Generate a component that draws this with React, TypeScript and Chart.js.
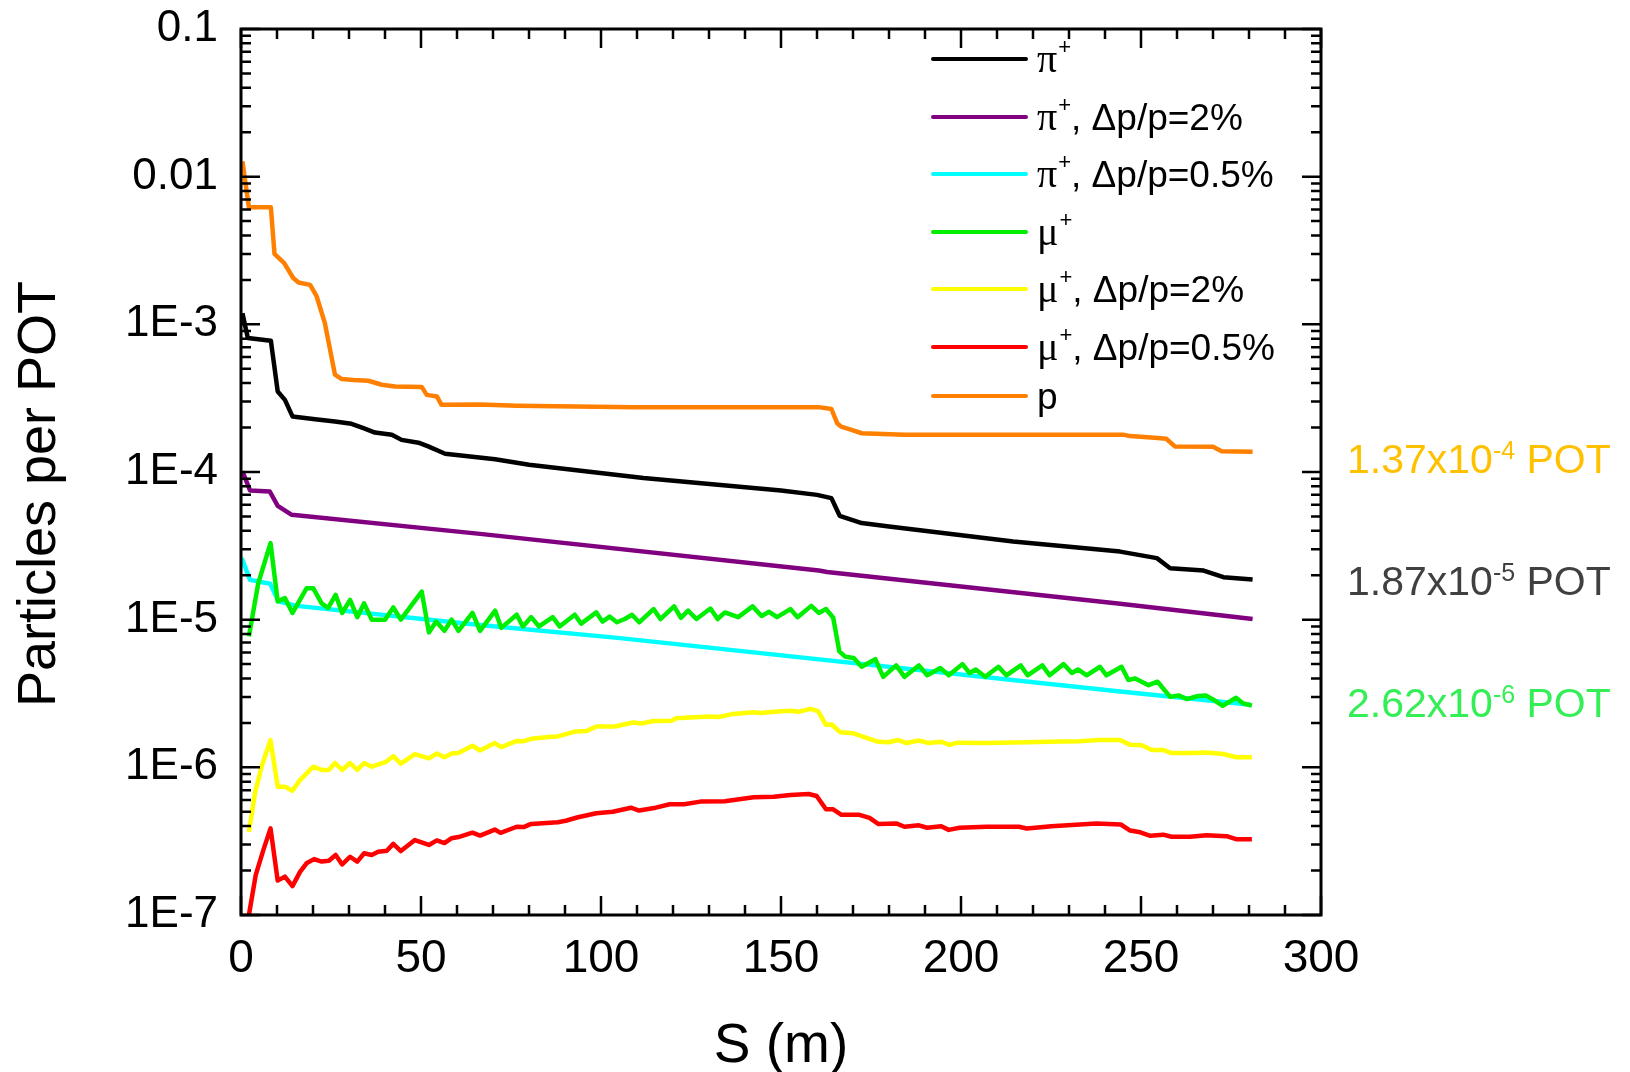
import React, { useEffect, useRef } from 'react';
import { Chart, registerables } from 'chart.js';

Chart.register(...registerables);

const SANS = '"Liberation Sans", Arial, sans-serif';
const SERIF = '"Liberation Serif", "Times New Roman", serif';

// ---- beam-line position S (m) and particles per proton on target ----

// pi+ (all momenta)
const piS = [0.4, 1.9, 8.3, 10.2, 12.2, 14.3, 20.6, 26.1, 30.7, 34,
  37.2, 41.9, 44.6, 49.3, 52, 56.7, 70.6, 80, 111.8, 150,
  160, 164, 166.3, 172.4, 180, 214.5, 244.2, 254.4, 258.1, 267.4,
  272.9, 281];
const piY = [1.19e-3, 8.07e-4, 7.74e-4, 3.51e-4, 3.08e-4, 2.38e-4, 2.28e-4, 2.2e-4, 2.12e-4, 1.98e-4,
  1.85e-4, 1.79e-4, 1.65e-4, 1.58e-4, 1.49e-4, 1.33e-4, 1.22e-4, 1.12e-4, 9.1e-5, 7.5e-5,
  7.0e-5, 6.65e-5, 5.05e-5, 4.51e-5, 4.28e-5, 3.38e-5, 2.89e-5, 2.61e-5, 2.23e-5, 2.15e-5,
  1.94e-5, 1.87e-5];

// pi+, dp/p = 2%
const pi2S = [0.4, 2.5, 8, 10.2, 14.1, 66.4, 160.5, 162.8, 244.2, 281];
const pi2Y = [1.01e-4, 7.5e-5, 7.38e-5, 5.9e-5, 5.13e-5, 3.81e-5, 2.15e-5, 2.1e-5, 1.28e-5, 1.01e-5];

// pi+, dp/p = 0.5%
const pi05S = [0.2, 2.5, 8.1, 10.4, 15.5, 66.4, 105.3, 244.2, 280.5];
const pi05Y = [2.61e-5, 1.86e-5, 1.75e-5, 1.33e-5, 1.24e-5, 9.2e-6, 7.5e-6, 3.26e-6, 2.65e-6];

// mu+ (all momenta)
const muS = [2.2, 4.8, 8.2, 10.2, 12.2, 14.3, 18.2, 20.1, 22.4, 24.2,
  26.3, 28.1, 30.3, 32.3, 34.2, 36.3, 40, 42.3, 44.4, 50.2,
  52.2, 54.2, 56.5, 58.5, 60.4, 64.3, 66.4, 70.6, 72.3, 76.6,
  78.3, 80.6, 82.8, 86.6, 88.5, 92.7, 94.5, 98.7, 100.4, 102.4,
  104.4, 106.6, 108.6, 110.6, 114.6, 116.5, 120.3, 122.2, 124.2, 126.5,
  130.4, 132.4, 134.4, 138.1, 142.1, 144.6, 146.7, 148.9, 152.6, 154.6,
  158.4, 160.5, 162.5, 164.5, 166.2, 167.9, 170.2, 172.4, 176.2, 178.4,
  182, 184.3, 188.3, 190.6, 194.3, 196.6, 200.4, 202.4, 204.1, 206.7,
  210.4, 212.6, 216.6, 218.5, 222.6, 224.6, 228.5, 230.8, 232.5, 234.9,
  238.6, 240.4, 244.6, 246.5, 248.4, 252.1, 254.6, 258.1, 260.4, 262.7,
  265.9, 268, 270.1, 272.7, 276.4, 278.4, 280.8];
const muY = [7.7e-6, 1.77e-5, 3.3e-5, 1.33e-5, 1.4e-5, 1.11e-5, 1.63e-5, 1.63e-5, 1.29e-5, 1.2e-5,
  1.47e-5, 1.11e-5, 1.36e-5, 1.04e-5, 1.29e-5, 1.0e-5, 1.0e-5, 1.21e-5, 1.0e-5, 1.55e-5,
  8.2e-6, 9.7e-6, 8.4e-6, 1.0e-5, 8.4e-6, 1.11e-5, 8.4e-6, 1.15e-5, 8.8e-6, 1.08e-5,
  9.0e-6, 1.04e-5, 9.0e-6, 1.04e-5, 9.0e-6, 1.08e-5, 9.4e-6, 1.12e-5, 9.7e-6, 1.05e-5,
  9.6e-6, 1.01e-5, 1.08e-5, 9.6e-6, 1.18e-5, 1.01e-5, 1.23e-5, 1.03e-5, 1.15e-5, 1.01e-5,
  1.19e-5, 1.01e-5, 1.12e-5, 1.04e-5, 1.23e-5, 1.06e-5, 1.13e-5, 1.04e-5, 1.18e-5, 1.04e-5,
  1.24e-5, 1.11e-5, 1.18e-5, 1.03e-5, 6.1e-6, 5.6e-6, 5.5e-6, 4.8e-6, 5.4e-6, 4.1e-6,
  4.9e-6, 4.1e-6, 4.9e-6, 4.2e-6, 4.7e-6, 4.2e-6, 5.0e-6, 4.35e-6, 4.6e-6, 4.1e-6,
  4.8e-6, 4.2e-6, 4.9e-6, 4.2e-6, 4.9e-6, 4.2e-6, 5.0e-6, 4.35e-6, 4.6e-6, 4.2e-6,
  4.8e-6, 4.2e-6, 4.8e-6, 3.9e-6, 4.0e-6, 3.6e-6, 3.8e-6, 3.0e-6, 3.07e-6, 2.9e-6,
  3.04e-6, 3.07e-6, 2.87e-6, 2.61e-6, 2.96e-6, 2.71e-6, 2.62e-6];

// mu+, dp/p = 2%
const mu2S = [2.2, 3.9, 5.7, 8.2, 10.2, 12.2, 14.3, 16.4, 20.1, 22.4,
  24.4, 26.1, 28.1, 30.3, 32.3, 34.2, 36.3, 40.3, 42.3, 44.4,
  48.3, 52.2, 54.4, 56.5, 58.5, 60.4, 64.3, 66.4, 70.5, 72.3,
  76.6, 78.3, 80.6, 86.2, 88, 93, 95.9, 98.7, 103.8, 108.9,
  111.2, 114.6, 119.7, 120.8, 129.9, 132.7, 136.7, 142.4, 144.6, 148,
  152.6, 154.9, 158.2, 160.3, 162.5, 164.1, 166.4, 170.1, 177, 179.8,
  182.6, 184.9, 188.3, 191.1, 194.5, 196.8, 199.1, 207, 218.4, 224,
  233, 238.1, 244.2, 247, 250.2, 253, 256.2, 258.5, 264.5, 268.2,
  272.8, 276.5, 280.8];
const mu2Y = [3.66e-7, 6.7e-7, 1.01e-6, 1.53e-6, 7.4e-7, 7.4e-7, 6.95e-7, 8.2e-7, 1.01e-6, 9.6e-7,
  9.6e-7, 1.07e-6, 9.6e-7, 1.07e-6, 9.6e-7, 1.07e-6, 1.01e-6, 1.09e-6, 1.19e-6, 1.06e-6,
  1.23e-6, 1.15e-6, 1.24e-6, 1.17e-6, 1.24e-6, 1.25e-6, 1.4e-6, 1.3e-6, 1.46e-6, 1.37e-6,
  1.51e-6, 1.5e-6, 1.56e-6, 1.61e-6, 1.62e-6, 1.75e-6, 1.76e-6, 1.89e-6, 1.89e-6, 2.01e-6,
  1.98e-6, 2.06e-6, 2.07e-6, 2.15e-6, 2.21e-6, 2.19e-6, 2.3e-6, 2.36e-6, 2.33e-6, 2.38e-6,
  2.42e-6, 2.38e-6, 2.49e-6, 2.4e-6, 1.94e-6, 1.95e-6, 1.73e-6, 1.7e-6, 1.49e-6, 1.48e-6,
  1.53e-6, 1.46e-6, 1.52e-6, 1.46e-6, 1.49e-6, 1.42e-6, 1.47e-6, 1.46e-6, 1.48e-6, 1.49e-6,
  1.5e-6, 1.53e-6, 1.53e-6, 1.42e-6, 1.41e-6, 1.31e-6, 1.31e-6, 1.25e-6, 1.25e-6, 1.26e-6,
  1.23e-6, 1.17e-6, 1.17e-6];

// mu+, dp/p = 0.5%
const mu05S = [2.2, 4.1, 6.2, 8.2, 10.2, 12.2, 14.3, 16.4, 18.2, 20.3,
  22.4, 24.4, 26.3, 28.1, 30.3, 32.3, 34.2, 36.3, 38.1, 40.5,
  42.3, 44.4, 48.3, 52.2, 54.4, 56.5, 58.5, 60.4, 64.3, 66.4,
  70.5, 72.1, 76.6, 78.5, 80.6, 88, 90.2, 93.6, 98.7, 103.3,
  108.3, 110.6, 115.2, 119.1, 123.1, 127.6, 134.4, 142.4, 148, 152.6,
  157.7, 159.9, 162.5, 164.5, 166.8, 171.8, 174.6, 177, 182, 184.3,
  188.3, 190.6, 194.5, 196.6, 199.6, 207, 216.1, 218.3, 225.1, 237.6,
  244.4, 247, 249.8, 252.6, 256.2, 258.5, 263.6, 268.2, 273.8, 276.4,
  280.8];
const mu05Y = [1.0e-7, 1.87e-7, 2.75e-7, 3.86e-7, 1.71e-7, 1.82e-7, 1.57e-7, 1.96e-7, 2.24e-7, 2.39e-7,
  2.3e-7, 2.33e-7, 2.55e-7, 2.2e-7, 2.48e-7, 2.3e-7, 2.62e-7, 2.55e-7, 2.68e-7, 2.72e-7,
  3.03e-7, 2.71e-7, 3.22e-7, 2.98e-7, 3.2e-7, 3.07e-7, 3.31e-7, 3.37e-7, 3.61e-7, 3.45e-7,
  3.79e-7, 3.6e-7, 3.96e-7, 3.94e-7, 4.14e-7, 4.25e-7, 4.35e-7, 4.59e-7, 4.89e-7, 5.0e-7,
  5.33e-7, 5.1e-7, 5.33e-7, 5.62e-7, 5.62e-7, 5.86e-7, 5.9e-7, 6.27e-7, 6.33e-7, 6.5e-7,
  6.6e-7, 6.4e-7, 5.2e-7, 5.2e-7, 4.77e-7, 4.77e-7, 4.55e-7, 4.14e-7, 4.17e-7, 3.96e-7,
  4.05e-7, 3.9e-7, 3.99e-7, 3.77e-7, 3.9e-7, 3.96e-7, 3.96e-7, 3.85e-7, 3.99e-7, 4.17e-7,
  4.1e-7, 3.73e-7, 3.63e-7, 3.44e-7, 3.5e-7, 3.39e-7, 3.39e-7, 3.47e-7, 3.42e-7, 3.26e-7,
  3.26e-7];

// protons
const protonS = [0.4, 2.2, 8.3, 9.3, 12, 14.5, 16, 19.2, 21, 23.3,
  26.1, 28, 31.2, 35.4, 39.1, 42.8, 50.2, 51.6, 54.4, 55.7,
  66.4, 76.6, 109.4, 160.5, 164, 165.6, 166.7, 169.6, 172.4, 184.3,
  245, 247, 254.7, 257, 259.4, 270, 272.4, 281];
const protonY = [1.27e-2, 6.2e-3, 6.2e-3, 3.0e-3, 2.6e-3, 2.06e-3, 1.92e-3, 1.85e-3, 1.55e-3, 1.02e-3,
  4.56e-4, 4.26e-4, 4.2e-4, 4.15e-4, 3.9e-4, 3.79e-4, 3.77e-4, 3.33e-4, 3.25e-4, 2.85e-4,
  2.86e-4, 2.81e-4, 2.75e-4, 2.75e-4, 2.67e-4, 2.14e-4, 2.03e-4, 1.93e-4, 1.83e-4, 1.79e-4,
  1.79e-4, 1.75e-4, 1.7e-4, 1.68e-4, 1.49e-4, 1.48e-4, 1.38e-4, 1.37e-4];

// ---- axes ----
const sTicks = [0, 50, 100, 150, 200, 250, 300];
const yTickValues = [1e-7, 1e-6, 1e-5, 1e-4, 1e-3, 1e-2, 1e-1];
const yTickLabels = ['1E-7', '1E-6', '1E-5', '1E-4', '1E-3', '0.01', '0.1'];

// ---- legend text: particle symbol, superscript, remainder ----
const legendSymbol = ['π', 'π', 'π', 'μ', 'μ', 'μ', 'p'];
const legendSup = ['+', '+', '+', '+', '+', '+', ''];
const legendRest = ['', ', Δp/p=2%', ', Δp/p=0.5%', '', ', Δp/p=2%', ', Δp/p=0.5%', ''];

// ---- end-of-line yields written at the right ----
const endValues = [1.37e-4, 1.87e-5, 2.62e-6];
const endMantissa = ['1.37', '1.87', '2.62'];
const endExponent = ['-4', '-5', '-6'];
const endColors = ['#FFC000', '#404040', '#33EE55'];
const endShift = [6, 0, -4];

const zip = (xs: number[], ys: number[]) => xs.map((x, i) => ({ x, y: ys[i] }));

// layout constants (canvas pixels)
const W = 1630;
const H = 1072;
const PLOT_LEFT = 241;
const PLOT_RIGHT = 1321;
const PLOT_TOP = 29;
const PLOT_BOTTOM = 915;
const LEGEND_ROWS = [59, 117, 174, 232, 289, 347, 396];
const LEGEND_LINE_X0 = 933;
const LEGEND_LINE_X1 = 1026;
const LEGEND_TEXT_X = 1037;

const decorPlugin = {
  id: 'decor',
  afterDraw(chart: any) {
    const { ctx, chartArea: a, scales } = chart;
    const xs = scales.x;
    const ys = scales.y;
    ctx.save();

    // inward tick marks on all four sides
    ctx.strokeStyle = '#000';
    ctx.lineWidth = 2.5;
    ctx.lineCap = 'butt';
    ctx.beginPath();
    for (let s = 0; s <= 300; s += 10) {
      const px = xs.getPixelForValue(s);
      const len = s % 50 === 0 ? 19 : 10;
      ctx.moveTo(px, a.bottom);
      ctx.lineTo(px, a.bottom - len);
      ctx.moveTo(px, a.top);
      ctx.lineTo(px, a.top + len);
    }
    for (let e = -7; e <= -1; e++) {
      for (let m = 1; m <= 9; m++) {
        const v = m * Math.pow(10, e);
        if (v > 0.10001) break;
        const py = ys.getPixelForValue(v);
        const len = m === 1 ? 19 : 10;
        ctx.moveTo(a.left, py);
        ctx.lineTo(a.left + len, py);
        ctx.moveTo(a.right, py);
        ctx.lineTo(a.right - len, py);
      }
    }
    ctx.stroke();

    // plot frame
    ctx.lineWidth = 3;
    ctx.strokeRect(a.left, a.top, a.right - a.left, a.bottom - a.top);

    // axis titles
    ctx.fillStyle = '#000';
    ctx.font = `55px ${SANS}`;
    ctx.textAlign = 'center';
    ctx.textBaseline = 'alphabetic';
    ctx.fillText('S (m)', (a.left + a.right) / 2, 1062);
    ctx.save();
    ctx.translate(55, 494);
    ctx.rotate(-Math.PI / 2);
    ctx.font = `54px ${SANS}`;
    ctx.fillText('Particles per POT', 0, 0);
    ctx.restore();

    // legend
    ctx.textAlign = 'left';
    chart.data.datasets.forEach((ds: any, i: number) => {
      const y = LEGEND_ROWS[i];
      ctx.strokeStyle = ds.borderColor;
      ctx.lineWidth = 4;
      ctx.lineCap = 'round';
      ctx.beginPath();
      ctx.moveTo(LEGEND_LINE_X0, y);
      ctx.lineTo(LEGEND_LINE_X1, y);
      ctx.stroke();

      ctx.fillStyle = '#000';
      const greek = legendSymbol[i] !== 'p';
      ctx.font = greek ? `40px ${SERIF}` : `37px ${SANS}`;
      let x = LEGEND_TEXT_X;
      const base = y + 13;
      ctx.fillText(legendSymbol[i], x, base);
      x += ctx.measureText(legendSymbol[i]).width;
      if (legendSup[i]) {
        ctx.font = `22px ${SANS}`;
        ctx.fillText(legendSup[i], x + 1, y - 5);
        x += ctx.measureText(legendSup[i]).width + 1;
      }
      if (legendRest[i]) {
        ctx.font = `37px ${SANS}`;
        ctx.fillText(legendRest[i], x, base);
      }
    });

    // end-of-line yields
    endValues.forEach((v, i) => {
      const base = ys.getPixelForValue(v) + 15 + endShift[i];
      let x = a.right + 26;
      ctx.fillStyle = endColors[i];
      ctx.font = `41px ${SANS}`;
      const main = `${endMantissa[i]}x10`;
      ctx.fillText(main, x, base);
      x += ctx.measureText(main).width;
      ctx.font = `25px ${SANS}`;
      ctx.fillText(endExponent[i], x, base - 14);
      x += ctx.measureText(endExponent[i]).width;
      ctx.font = `41px ${SANS}`;
      ctx.fillText(' POT', x, base);
    });

    ctx.restore();
  },
};

export default function App() {
  const canvasRef = useRef<HTMLCanvasElement | null>(null);

  useEffect(() => {
    const canvas = canvasRef.current;
    if (!canvas) return;

    const line = (label: string, color: string, data: { x: number; y: number }[], order: number) => ({
      label,
      data,
      borderColor: color,
      backgroundColor: color,
      borderWidth: 4.5,
      pointRadius: 0,
      tension: 0,
      fill: false,
      borderJoinStyle: 'round' as const,
      order,
    });

    const chart = new Chart(canvas, {
      type: 'line',
      data: {
        datasets: [
          line('π+', '#000000', zip(piS, piY), 0),
          line('π+, Δp/p=2%', '#800080', zip(pi2S, pi2Y), 1),
          line('π+, Δp/p=0.5%', '#00FFFF', zip(pi05S, pi05Y), 10),
          line('μ+', '#00EE00', zip(muS, muY), 3),
          line('μ+, Δp/p=2%', '#FFFF00', zip(mu2S, mu2Y), 4),
          line('μ+, Δp/p=0.5%', '#FF0000', zip(mu05S, mu05Y), 5),
          line('p', '#FF8000', zip(protonS, protonY), 6),
        ],
      },
      options: {
        responsive: false,
        animation: false,
        events: [],
        layout: {
          padding: { left: 0, top: PLOT_TOP, right: W - PLOT_RIGHT, bottom: 0 },
        },
        plugins: {
          legend: { display: false },
          tooltip: { enabled: false },
          title: { display: false },
        },
        scales: {
          x: {
            type: 'linear',
            min: 0,
            max: 300,
            grid: { display: false, drawTicks: false },
            border: { display: false },
            afterBuildTicks: (axis: any) => {
              axis.ticks = sTicks.map((v) => ({ value: v }));
            },
            afterFit: (axis: any) => {
              axis.height = H - PLOT_BOTTOM;
              axis.paddingLeft = 0;
              axis.paddingRight = 0;
              axis.paddingTop = 0;
              axis.paddingBottom = 0;
            },
            ticks: {
              autoSkip: false,
              maxRotation: 0,
              padding: 17,
              color: '#000',
              font: { family: SANS, size: 46 },
              callback: (v: any) => String(v),
            },
          },
          y: {
            type: 'logarithmic',
            min: 1e-7,
            max: 0.1,
            grid: { display: false, drawTicks: false },
            border: { display: false },
            afterBuildTicks: (axis: any) => {
              axis.ticks = yTickValues.map((v) => ({ value: v }));
            },
            afterFit: (axis: any) => {
              axis.width = PLOT_LEFT;
              axis.paddingLeft = 0;
              axis.paddingRight = 0;
              axis.paddingTop = 0;
              axis.paddingBottom = 0;
            },
            ticks: {
              autoSkip: false,
              padding: 23,
              color: '#000',
              font: { family: SANS, size: 44 },
              callback: (v: any) => {
                const i = yTickValues.findIndex(
                  (t) => Math.abs(Math.log10(t) - Math.log10(Number(v))) < 1e-6
                );
                return i >= 0 ? yTickLabels[i] : '';
              },
            },
          },
        },
      },
      plugins: [decorPlugin],
    } as any);

    return () => chart.destroy();
  }, []);

  return (
    <div style={{ position: 'absolute', left: 0, top: 0, width: W, height: H, background: '#fff' }}>
      <canvas ref={canvasRef} width={W} height={H} style={{ display: 'block' }} />
    </div>
  );
}
